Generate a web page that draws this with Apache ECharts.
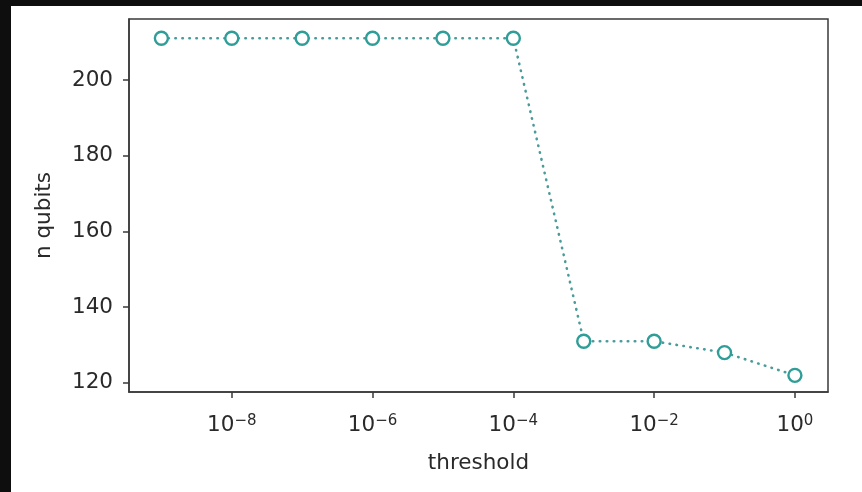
<!DOCTYPE html>
<html>
<head>
<meta charset="utf-8">
<script src="https://cdn.jsdelivr.net/npm/echarts@6/dist/echarts.min.js"></script>
<style>
  html, body { margin: 0; padding: 0; background: #0e0e0e; width: 862px; height: 492px; overflow: hidden; }
  #wrap { position: absolute; left: 11px; top: 6px; width: 851px; height: 486px; background: #ffffff; }
  #chart { width: 851px; height: 486px; }
</style>
</head>
<body>
<div id="wrap"><div id="chart"></div></div>
<script>
// Data
const thresholds = [1e-9, 1e-8, 1e-7, 1e-6, 1e-5, 1e-4, 1e-3, 1e-2, 1e-1, 1e0];
const nQubits    = [211, 211, 211, 211, 211, 211, 131, 131, 128, 122];
const xTickValues = [1e-8, 1e-6, 1e-4, 1e-2, 1e0];
const yTickValues = [120, 140, 160, 180, 200];

const textColor = '#2a2a2a';
const frameColor = '#3a3a3a';
const teal = '#2f9e98';
const fs = 21.5;

function expLabel(v) {
  const e = Math.round(Math.log10(v));
  const s = e < 0 ? '\u2212' + (-e) : String(e);
  return '{b|10}{s|' + s + '}';
}

const chart = echarts.init(document.getElementById('chart'));
chart.setOption({
  animation: false,
  backgroundColor: '#ffffff',
  textStyle: { fontFamily: 'DejaVu Sans' },
  grid: {
    left: 118, top: 13, right: 34, bottom: 100,
    show: true, borderColor: frameColor, borderWidth: 1.5, backgroundColor: 'transparent'
  },
  xAxis: {
    type: 'log',
    logBase: 10,
    min: Math.pow(10, -9.46),
    max: Math.pow(10, 0.47),
    name: 'threshold',
    nameLocation: 'middle',
    nameGap: 60,
    nameTextStyle: { color: textColor, fontSize: fs, fontFamily: 'DejaVu Sans' },
    axisLine: { show: true, lineStyle: { color: frameColor, width: 1.5 } },
    axisTick: { show: true, length: 6, lineStyle: { color: frameColor, width: 1.5 }, customValues: xTickValues },
    splitLine: { show: false },
    minorTick: { show: false },
    axisLabel: {
      customValues: xTickValues,
      margin: 22,
      formatter: expLabel,
      rich: {
        b: { fontSize: fs, color: textColor, fontFamily: 'DejaVu Sans', lineHeight: 23 },
        s: { fontSize: 15, color: textColor, fontFamily: 'DejaVu Sans', verticalAlign: 'top', lineHeight: 14 }
      }
    }
  },
  yAxis: {
    type: 'value',
    min: 117.6,
    max: 216.1,
    name: 'n qubits',
    nameLocation: 'middle',
    nameGap: 74,
    nameTextStyle: { color: textColor, fontSize: fs, fontFamily: 'DejaVu Sans', padding: [0, 20, 0, 0] },
    axisLine: { show: true, lineStyle: { color: frameColor, width: 1.5 } },
    axisTick: { show: true, length: 6, lineStyle: { color: frameColor, width: 1.5 }, customValues: yTickValues },
    splitLine: { show: false },
    axisLabel: {
      customValues: yTickValues,
      margin: 16,
      color: textColor,
      fontSize: fs,
      fontFamily: 'DejaVu Sans'
    }
  },
  series: [{
    type: 'line',
    data: thresholds.map((t, i) => [t, nQubits[i]]),
    symbol: 'circle',
    symbolSize: 13,
    showAllSymbol: true,
    lineStyle: { color: '#4a9c9a', width: 2.6, type: [0.5, 6.5], cap: 'round' },
    itemStyle: { color: '#ffffff', borderColor: teal, borderWidth: 2.4 },
    emphasis: { disabled: true }
  }]
});
</script>
</body>
</html>
